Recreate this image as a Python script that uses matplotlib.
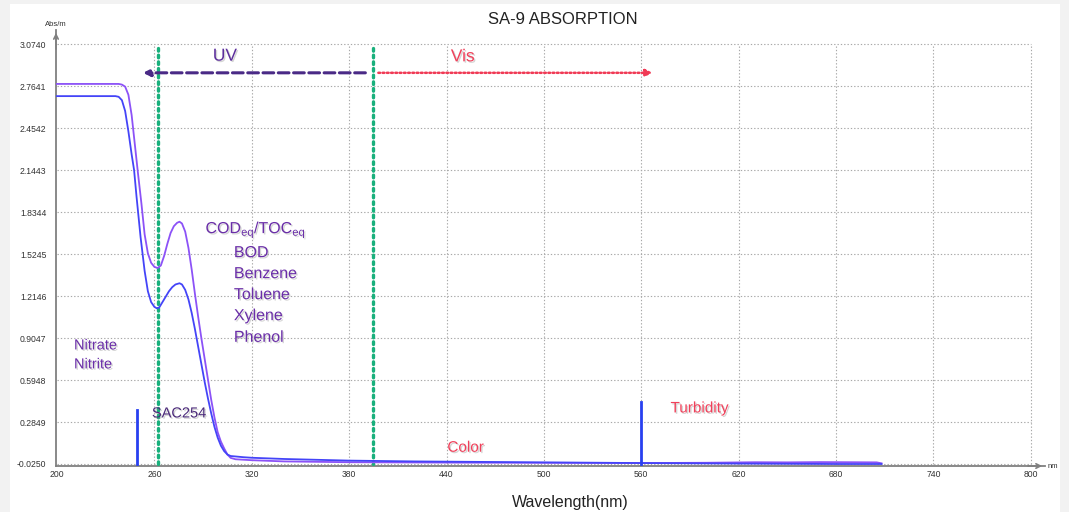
import matplotlib
matplotlib.use("Agg")
import matplotlib.pyplot as plt
import matplotlib.patheffects as pe
from matplotlib.patches import Rectangle

plt.rcParams['font.family'] = ['Liberation Sans', 'DejaVu Sans']
plt.rcParams['mathtext.fontset'] = 'custom'
plt.rcParams['mathtext.rm'] = 'Liberation Sans'

# ---------------- data ----------------
title = "SA-9 ABSORPTION"
x_ticks = [200, 260, 320, 380, 440, 500, 560, 620, 680, 740, 800]
y_ticks = [-0.0250, 0.2849, 0.5948, 0.9047, 1.2146, 1.5245, 1.8344, 2.1443, 2.4542, 2.7641, 3.0740]
y_tick_labels = ["-0.0250", "0.2849", "0.5948", "0.9047", "1.2146", "1.5245",
                 "1.8344", "2.1443", "2.4542", "2.7641", "3.0740"]

wl_a = [200, 238, 240, 242, 244, 246, 248, 250, 252, 254, 256, 258, 260, 262, 264, 266,
        268, 270, 272, 274, 275.5, 277, 279, 281, 283, 285, 287, 289, 291, 293, 295, 297,
        299, 301, 303, 305, 307, 310, 320, 340, 380, 450, 560, 600, 630, 650, 670, 690, 705, 708]
abs_a = [2.78, 2.78, 2.775, 2.76, 2.70, 2.55, 2.33, 2.11, 1.90, 1.67, 1.53, 1.46, 1.43, 1.421, 1.44, 1.51,
         1.60, 1.68, 1.73, 1.755, 1.763, 1.75, 1.69, 1.57, 1.41, 1.23, 1.06, 0.90, 0.75, 0.60, 0.45, 0.32,
         0.21, 0.14, 0.09, 0.045, 0.02, 0.01, 0.003, -0.006, -0.012, -0.015, -0.018, -0.016, -0.012, -0.013, -0.011, -0.012, -0.013, -0.02]

wl_b = [200, 236, 238, 240, 242, 244, 246, 247.5, 249, 251.5, 254, 256, 258, 260, 261.5, 263,
        265, 267, 269, 271, 273, 275.5, 277, 279, 281, 283, 285, 287, 289, 291, 293, 295, 297,
        299, 301, 303, 305, 307, 315, 320, 340, 380, 420, 500, 560, 620, 680, 708]
abs_b = [2.69, 2.69, 2.685, 2.66, 2.58, 2.43, 2.26, 2.145, 1.95, 1.65, 1.40, 1.25, 1.17, 1.135, 1.124, 1.13,
         1.17, 1.21, 1.25, 1.28, 1.30, 1.309, 1.30, 1.26, 1.19, 1.09, 0.97, 0.84, 0.71, 0.58, 0.46, 0.35, 0.25,
         0.17, 0.11, 0.07, 0.045, 0.034, 0.025, 0.021, 0.012, 0.0, -0.006, -0.013, -0.018, -0.022, -0.025, -0.025]

spike_wl = [249.3, 560]
spike_top = [0.37, 0.43]

marker_wl = [262, 395]          # green dotted reference lines
uv_arrow = (390, 253, 2.862)     # from, to, level
vis_arrow = (398, 567, 2.862)

cod_labels = ["BOD", "Benzene", "Toluene", "Xylene", "Phenol"]
nitro_labels = ["Nitrate", "Nitrite"]

# ---------------- figure ----------------
W, H = 1069, 512
fig = plt.figure(figsize=(W / 100, H / 100), dpi=100, facecolor='#F2F2F2')
fig.patches.append(Rectangle((10 / W, 0), (1060 - 10) / W, (H - 4) / H,
                             transform=fig.transFigure, facecolor='white',
                             edgecolor='none', zorder=-10))

ax = fig.add_axes([56 / W, (H - 466) / H, (1045 - 56) / W, (466 - 30) / H])
ax.set_zorder(5)
ax.set_facecolor('none')
ax.set_xlim(199.4, 808.7)
ax.set_ylim(-0.0398, 3.178)

for s in ['top', 'right']:
    ax.spines[s].set_visible(False)
for s in ['left', 'bottom']:
    ax.spines[s].set_color('#808080')
    ax.spines[s].set_linewidth(1.3)

ax.set_xticks(x_ticks)
ax.set_xticklabels([str(v) for v in x_ticks])
ax.set_yticks(y_ticks)
ax.set_yticklabels(y_tick_labels)
ax.tick_params(length=0, labelsize=6.2, colors='#333333', pad=3)
ax.tick_params(axis='y', pad=7)

# grid
grid_kw = dict(color='#A8A8A8', linestyle=(0, (1.2, 1.8)), linewidth=0.8, zorder=1)
for yv in y_ticks:
    ax.plot([200, 800], [yv, yv], **grid_kw)
for xv in x_ticks[1:]:
    ax.plot([xv, xv], [y_ticks[0], y_ticks[-1]], **grid_kw)

# axis arrow heads
ax.annotate('', xy=(0, 1.0), xytext=(0, 0.95), xycoords='axes fraction',
            arrowprops=dict(arrowstyle='->', color='#808080', lw=1.2, mutation_scale=8))
ax.annotate('', xy=(1.0, 0), xytext=(0.98, 0), xycoords='axes fraction',
            arrowprops=dict(arrowstyle='->', color='#808080', lw=1.2, mutation_scale=8))
ax.text(0.0, 1.005, "Abs/m", transform=ax.transAxes, fontsize=5.5, color='#333333',
        ha='center', va='bottom')
ax.text(1.003, 0.0, "nm", transform=ax.transAxes, fontsize=5.5, color='#333333',
        ha='left', va='center')

# green markers
for xv in marker_wl:
    ax.plot([xv, xv], [y_ticks[0], y_ticks[-1]], color='#19B07C', linestyle=(0, (0.8, 1.2)),
            linewidth=2.4, zorder=3, dash_capstyle='round')

# curves
ax.plot(wl_a, abs_a, color='#8C52F7', linewidth=1.3, zorder=4)
ax.plot(wl_b, abs_b, color='#4444F8', linewidth=1.3, zorder=4)

# spikes
for xv, top in zip(spike_wl, spike_top):
    ax.plot([xv, xv], [y_ticks[0], top], color='#2840F0', linewidth=2.0, zorder=5)

# UV / Vis arrows
ax.annotate('', xy=(uv_arrow[1], uv_arrow[2]), xytext=(uv_arrow[0], uv_arrow[2]),
            arrowprops=dict(arrowstyle='-|>', color='#4A2A86', lw=2.2, linestyle=(0, (3.5, 1.5)),
                            mutation_scale=10, shrinkA=0, shrinkB=0), zorder=6)
ax.annotate('', xy=(vis_arrow[1], vis_arrow[2]), xytext=(vis_arrow[0], vis_arrow[2]),
            arrowprops=dict(arrowstyle='-|>', color='#F03A55', lw=1.8, linestyle=(0, (0.7, 1.0)),
                            mutation_scale=10, shrinkA=0, shrinkB=0), zorder=6)

shadow = [pe.withSimplePatchShadow(offset=(1, -1), shadow_rgbFace='#888888', alpha=0.35)]
purple = '#6A2EA8'
red = '#F0405A'

ax.text(303.5, 2.985, "UV", color='#5B2D9B', fontsize=12.5, ha='center', va='center',
        path_effects=shadow, zorder=7)
ax.text(450, 2.98, "Vis", color=red, fontsize=12.5, ha='center', va='center',
        path_effects=shadow, zorder=7)

ax.text(291.5, 1.705, "COD$_{\\mathrm{eq}}$/TOC$_{\\mathrm{eq}}$", color=purple, fontsize=11.5,
        ha='left', va='center', path_effects=shadow, zorder=7)
cod_y = [1.535, 1.38, 1.225, 1.07, 0.91]
for lab, yv in zip(cod_labels, cod_y):
    ax.text(309, yv, lab, color=purple, fontsize=11.5, ha='left', va='center',
            path_effects=shadow, zorder=7)

for lab, yv in zip(nitro_labels, [0.85, 0.71]):
    ax.text(210.5, yv, lab, color=purple, fontsize=10.5, ha='left', va='center',
            path_effects=shadow, zorder=7)

ax.text(258.5, 0.348, "SAC254", color='#4B2A7A', fontsize=10.5, ha='left', va='center',
        path_effects=shadow, zorder=7)
ax.text(578, 0.385, "Turbidity", color=red, fontsize=11, ha='left', va='center',
        path_effects=shadow, zorder=7)
ax.text(440.5, 0.095, "Color", color=red, fontsize=11, ha='left', va='center',
        path_effects=shadow, zorder=7)

fig.text(563 / W, 1 - 19 / H, title, fontsize=12, color='#222222', ha='center', va='center')
fig.text(570 / W, 1 - 502 / H, "Wavelength(nm)", fontsize=11.5, color='#222222',
         ha='center', va='center')

fig.savefig("out.png", dpi=100, facecolor=fig.get_facecolor())
